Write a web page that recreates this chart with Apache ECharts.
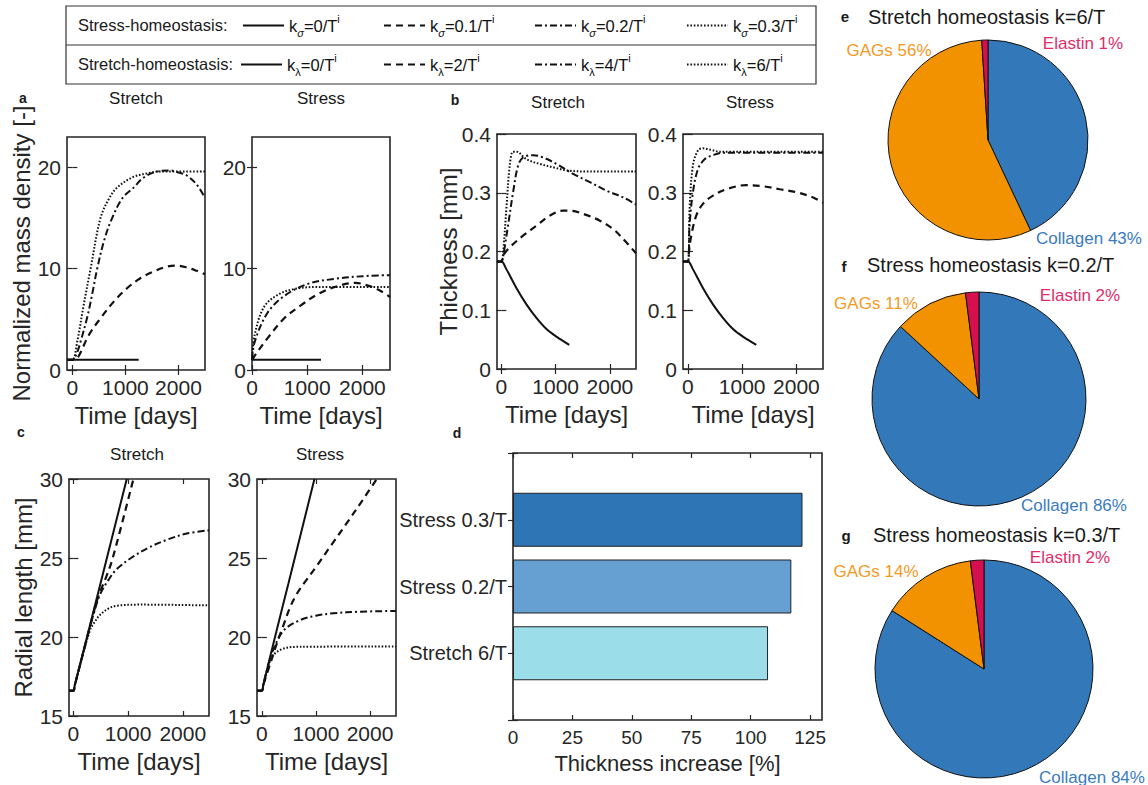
<!DOCTYPE html>
<html>
<head>
<meta charset="utf-8">
<script src="https://cdn.jsdelivr.net/npm/echarts@6/dist/echarts.min.js"></script>
<style>
  html, body { margin: 0; padding: 0; background: #ffffff; }
  #chart { width: 1148px; height: 785px; }
</style>
</head>
<body>
<div id="chart"></div>
<script>
// ---------------- data ----------------
const timeTicks = [0, 1000, 2000];
const densityTicks = [0, 10, 20];
const thicknessTicks = [0, 0.1, 0.2, 0.3, 0.4];
const radialTicks = [15, 20, 25, 30];
const increaseTicks = [0, 25, 50, 75, 100, 125];

// curve order in every panel: k = 0, then the three growth rates (low -> high)
const stretchRates = ['0', '2', '4', '6'];       // k_lambda
const stressRates = ['0', '0.1', '0.2', '0.3'];  // k_sigma

// a: normalized mass density [-] vs time [days]
const densityStretch = [
  [[-100, 1], [1250, 1]],
  [[-100, 1], [0, 1], [94, 1.15], [312, 3.46], [531, 5.1], [781, 6.75], [1031, 8.07], [1281, 9.06], [1531, 9.72], [1781, 10.21], [1969, 10.31], [2156, 10.12], [2344, 9.79], [2500, 9.46]],
  [[-100, 1], [0, 1], [80, 1.6], [156, 2.8], [281, 5.2], [375, 7.5], [469, 10], [600, 12.8], [750, 15], [950, 17], [1156, 18], [1344, 19], [1600, 19.6], [1844, 19.7], [2000, 19.5], [2156, 19.2], [2344, 18.3], [2500, 17.0]],
  [[-100, 1], [0, 1], [100, 3], [200, 6], [344, 10], [531, 15], [700, 17], [844, 18], [1125, 19], [1400, 19.4], [1656, 19.6], [2500, 19.6]]
];
const densityStress = [
  [[0, 1], [1250, 1]],
  [[0, 1], [100, 1.8], [276, 3.1], [583, 5.1], [890, 6.4], [1196, 7.5], [1500, 8.2], [1871, 8.6], [2117, 8.3], [2300, 7.9], [2500, 7.2]],
  [[0, 1], [50, 2.8], [276, 5.6], [583, 7.3], [1012, 8.5], [1503, 9.0], [2117, 9.3], [2500, 9.35]],
  [[0, 1], [50, 3.5], [215, 6.2], [460, 7.4], [767, 8.0], [1196, 8.2], [2500, 8.2]]
];

// b: thickness [mm] vs time [days]
const thicknessStretch = [
  [[-80, 0.183], [0, 0.183], [92, 0.170], [277, 0.138], [462, 0.110], [646, 0.087], [831, 0.068], [1015, 0.055], [1250, 0.041]],
  [[-80, 0.183], [0, 0.183], [31, 0.193], [154, 0.207], [400, 0.227], [646, 0.244], [892, 0.261], [1138, 0.2695], [1262, 0.2695], [1508, 0.264], [1815, 0.2525], [2062, 0.238], [2246, 0.221], [2480, 0.197]],
  [[-80, 0.183], [0, 0.183], [30, 0.19], [123, 0.244], [215, 0.30], [308, 0.346], [400, 0.360], [585, 0.364], [769, 0.360], [1015, 0.349], [1323, 0.332], [1631, 0.318], [1938, 0.3035], [2246, 0.292], [2480, 0.28]],
  [[-80, 0.183], [0, 0.183], [30, 0.195], [92, 0.272], [154, 0.346], [215, 0.37], [277, 0.37], [462, 0.357], [708, 0.349], [1015, 0.342], [1200, 0.338], [1631, 0.336], [2480, 0.336]]
];
const thicknessStress = [
  [[-90, 0.183], [0, 0.183], [92, 0.170], [277, 0.138], [462, 0.110], [646, 0.087], [831, 0.068], [1015, 0.055], [1260, 0.041]],
  [[-90, 0.183], [0, 0.183], [20, 0.2], [62, 0.227], [154, 0.261], [277, 0.281], [462, 0.295], [708, 0.306], [1077, 0.313], [1385, 0.311], [1692, 0.306], [2000, 0.301], [2308, 0.292], [2490, 0.283]],
  [[-90, 0.183], [0, 0.183], [31, 0.244], [92, 0.30], [185, 0.34], [308, 0.357], [462, 0.364], [646, 0.368], [2490, 0.368]],
  [[-90, 0.183], [0, 0.183], [31, 0.272], [92, 0.346], [185, 0.372], [277, 0.3756], [431, 0.373], [585, 0.370], [2490, 0.370]]
];

// c: radial length [mm] vs time [days]
const radialStretch = [
  [[-80, 16.6], [0, 16.6], [25, 16.94], [300, 20.7], [976, 30]],
  [[-80, 16.6], [0, 16.6], [25, 16.94], [300, 20.6], [450, 22.5], [600, 23.8], [720, 25.0], [1098, 30]],
  [[-80, 16.6], [0, 16.6], [25, 16.94], [300, 20.6], [400, 21.8], [488, 22.7], [640, 23.6], [793, 24.3], [1098, 25.1], [1402, 25.7], [1707, 26.15], [2073, 26.55], [2480, 26.75]],
  [[-80, 16.6], [0, 16.6], [25, 16.94], [300, 20.4], [400, 21.0], [488, 21.4], [640, 21.8], [793, 21.98], [1220, 22.05], [2480, 22.0]]
];
const radialStress = [
  [[-90, 16.6], [0, 16.6], [25, 16.95], [250, 20.1], [492, 23.4], [972, 30]],
  [[-90, 16.6], [0, 16.6], [25, 16.95], [154, 18.3], [277, 19.6], [400, 20.75], [523, 21.9], [650, 22.75], [800, 23.5], [1015, 24.5], [1300, 25.9], [1569, 27.2], [1850, 28.6], [2123, 30]],
  [[-90, 16.6], [0, 16.6], [25, 16.95], [100, 18.0], [200, 19.1], [400, 20.4], [708, 21.07], [1000, 21.35], [1323, 21.5], [1800, 21.6], [2480, 21.65]],
  [[-90, 16.6], [0, 16.6], [25, 16.95], [100, 17.9], [200, 18.8], [400, 19.27], [708, 19.38], [2480, 19.4]]
];

// d: thickness increase [%]
const barCategories = ['Stress 0.3/T', 'Stress 0.2/T', 'Stretch 6/T'];
const thicknessIncrease = [121.8, 117.1, 107.3];

// e-g: constituent fractions [%]
const constituents = ['Collagen', 'GAGs', 'Elastin'];
const fractionStretch6 = [43, 56, 1];
const fractionStress02 = [86, 11, 2];
const fractionStress03 = [84, 14, 2];

// ---------------- styles ----------------
const FONT = '"Liberation Sans", Arial, Helvetica, sans-serif';
const INK = '#262626';
const curveStyles = [
  { type: 'solid', width: 2 },
  { type: [7, 5], width: 2.2 },
  { type: [7, 3, 2, 3], width: 2 },
  { type: [1.6, 1.8], width: 2 }
];
const barColors = ['#2e75b6', '#66a0d2', '#9bdde9'];
const pieColors = ['#3378b9', '#f39200', '#d6104f'];
const pieTextColors = ['#3a7bc0', '#f59a1e', '#e02d6a'];
const plainNumber = (v) => String(v);

const panels = [
  { box: { left: 67, top: 137, width: 138, height: 233 }, x: [-100, 2500], y: [0, 23], yTicks: densityTicks, curves: densityStretch, group: 'lambda', yName: 'Normalized mass density [-]', yGap: 34 },
  { box: { left: 252, top: 137, width: 138, height: 233 }, x: [0, 2500], y: [0, 23], yTicks: densityTicks, curves: densityStress, group: 'sigma' },
  { box: { left: 497, top: 134, width: 139, height: 235 }, x: [-80, 2480], y: [0, 0.4], yTicks: thicknessTicks, curves: thicknessStretch, group: 'lambda', yName: 'Thickness [mm]', yGap: 37 },
  { box: { left: 683, top: 134, width: 140, height: 235 }, x: [-90, 2490], y: [0, 0.4], yTicks: thicknessTicks, curves: thicknessStress, group: 'sigma' },
  { box: { left: 69, top: 479, width: 140, height: 237 }, x: [-80, 2480], y: [15, 30], yTicks: radialTicks, curves: radialStretch, group: 'lambda', yName: 'Radial length [mm]', yGap: 34 },
  { box: { left: 257, top: 479, width: 139, height: 237 }, x: [-90, 2480], y: [15, 30], yTicks: radialTicks, curves: radialStress, group: 'sigma' }
];

const grids = [], xAxes = [], yAxes = [], series = [];

function ticks(values) {
  const t = { show: true, inside: true, length: 5, lineStyle: { color: INK, width: 1.2 } };
  if (values) t.customValues = values;
  return t;
}
function gridBox(box) {
  return Object.assign({ show: true, borderColor: INK, borderWidth: 1.6, backgroundColor: 'transparent', containLabel: false, outerBoundsMode: 'none' }, box);
}

panels.forEach((p, gi) => {
  grids.push(gridBox(p.box));
  const xi = xAxes.length, yi = yAxes.length;
  xAxes.push({
    type: 'value', gridIndex: gi, position: 'bottom', min: p.x[0], max: p.x[1],
    axisLine: { show: false }, splitLine: { show: false }, axisTick: ticks(timeTicks),
    axisLabel: { customValues: timeTicks, formatter: plainNumber, fontSize: 21, color: INK, margin: 7, fontFamily: FONT },
    name: 'Time [days]', nameLocation: 'middle', nameGap: 33, nameMoveOverlap: false,
    nameTextStyle: { fontSize: 24, color: INK, fontFamily: FONT }
  });
  xAxes.push({
    type: 'value', gridIndex: gi, position: 'top', min: p.x[0], max: p.x[1],
    axisLine: { show: false }, splitLine: { show: false }, axisTick: ticks(timeTicks), axisLabel: { show: false }
  });
  const left = {
    type: 'value', gridIndex: gi, position: 'left', min: p.y[0], max: p.y[1],
    axisLine: { show: false }, splitLine: { show: false }, axisTick: ticks(p.yTicks),
    axisLabel: { customValues: p.yTicks, formatter: plainNumber, fontSize: 21, color: INK, margin: 6, fontFamily: FONT }
  };
  if (p.yName) {
    Object.assign(left, {
      name: p.yName, nameLocation: 'middle', nameGap: p.yGap, nameMoveOverlap: false,
      nameTextStyle: { fontSize: 24, color: INK, fontFamily: FONT }
    });
  }
  yAxes.push(left);
  yAxes.push({
    type: 'value', gridIndex: gi, position: 'right', min: p.y[0], max: p.y[1],
    axisLine: { show: false }, splitLine: { show: false }, axisTick: ticks(p.yTicks), axisLabel: { show: false }
  });
  p.curves.forEach((data, ci) => {
    series.push({
      type: 'line', name: p.group + ci, xAxisIndex: xi, yAxisIndex: yi, data: data,
      symbol: 'none', smooth: 0.35, clip: true, silent: true,
      itemStyle: { color: 'rgba(0,0,0,0)' },
      lineStyle: Object.assign({ color: '#111111' }, curveStyles[ci]),
      emphasis: { disabled: true }
    });
  });
});

// d: horizontal bars
(function () {
  const gi = grids.length;
  grids.push(gridBox({ left: 513, top: 453, width: 309, height: 267 }));
  const slots = [''].concat(barCategories, ['']);
  const xi = xAxes.length, yi = yAxes.length;
  xAxes.push({
    type: 'value', gridIndex: gi, position: 'bottom', min: 0, max: 130,
    axisLine: { show: false }, splitLine: { show: false }, axisTick: ticks(increaseTicks),
    axisLabel: { customValues: increaseTicks, formatter: plainNumber, fontSize: 19, color: INK, margin: 8, fontFamily: FONT },
    name: 'Thickness increase [%]', nameLocation: 'middle', nameGap: 32, nameMoveOverlap: false,
    nameTextStyle: { fontSize: 22, color: INK, fontFamily: FONT }
  });
  xAxes.push({
    type: 'value', gridIndex: gi, position: 'top', min: 0, max: 130,
    axisLine: { show: false }, splitLine: { show: false }, axisTick: ticks(increaseTicks), axisLabel: { show: false }
  });
  yAxes.push({
    type: 'category', gridIndex: gi, position: 'left', data: slots, inverse: true, boundaryGap: false,
    axisLine: { show: false }, splitLine: { show: false }, axisTick: ticks(null),
    axisLabel: { fontSize: 20, color: INK, margin: 6, fontFamily: FONT, interval: 0 }
  });
  yAxes.push({
    type: 'category', gridIndex: gi, position: 'right', data: slots, inverse: true, boundaryGap: false,
    axisLine: { show: false }, splitLine: { show: false }, axisTick: ticks(null), axisLabel: { show: false }
  });
  series.push({
    type: 'bar', name: 'increase', xAxisIndex: xi, yAxisIndex: yi, barWidth: 54, silent: true,
    itemStyle: { borderColor: '#222222', borderWidth: 1 },
    data: [null].concat(thicknessIncrease.map((v, i) => ({ value: v, itemStyle: { color: barColors[i] } })), [null])
  });
})();

// e-g: pies
const pieLayouts = [
  { center: [988, 140], radius: 100, values: fractionStretch6, labelAt: [[1089, 238], [889, 50], [1083, 43]] },
  { center: [979, 399], radius: 107, values: fractionStress02, labelAt: [[1074, 505], [876, 303], [1080, 295]] },
  { center: [984, 669], radius: 109, values: fractionStress03, labelAt: [[1092, 777], [876, 571], [1070, 557]] }
];
pieLayouts.forEach((pl) => {
  series.push({
    type: 'pie', center: pl.center, radius: pl.radius, startAngle: 90, clockwise: true,
    avoidLabelOverlap: false, silent: true, emphasis: { disabled: true },
    itemStyle: { borderColor: '#111111', borderWidth: 1 },
    label: { show: true, position: 'outside', formatter: '{b} {c}%', fontSize: 17, fontFamily: FONT },
    labelLine: { show: false },
    labelLayout: (params) => ({ x: pl.labelAt[params.dataIndex][0], y: pl.labelAt[params.dataIndex][1], align: 'center', verticalAlign: 'middle' }),
    data: constituents.map((n, i) => ({ name: n, value: pl.values[i], itemStyle: { color: pieColors[i] }, label: { color: pieTextColors[i] } }))
  });
});

// legend rows with line samples
const legendRows = [
  { group: 'sigma', sub: 'σ', subStyle: 'italic', rates: stressRates, y: 25, xs: [242, 383, 534, 686] },
  { group: 'lambda', sub: 'λ', subStyle: 'normal', rates: stretchRates, y: 64, xs: [240, 383, 534, 686] }
];
const legends = [];
legendRows.forEach((row) => {
  row.rates.forEach((r, i) => {
    legends.push({
      data: [row.group + i], left: row.xs[i], top: row.y - 12, orient: 'horizontal',
      itemWidth: 41, itemHeight: 14, itemGap: 0, padding: 0, selectedMode: false,
      itemStyle: { opacity: 0 },
      formatter: () => '{k|k}{s|' + row.sub + '}{t|=' + r + '/T}{i|i}',
      textStyle: {
        color: '#111111', fontFamily: FONT,
        rich: {
          k: { fontSize: 16.5, fontFamily: FONT, color: '#111111' },
          s: { fontSize: 11, fontFamily: FONT, fontStyle: row.subStyle, color: '#111111', padding: [14, 0, 0, 0] },
          t: { fontSize: 16.5, fontFamily: FONT, color: '#111111' },
          i: { fontSize: 11, fontFamily: FONT, color: '#111111', padding: [0, 0, 14, 0] }
        }
      }
    });
  });
});

// static text and frame
function txt(text, x, y, size, extra) {
  return {
    type: 'text', x: x, y: y, silent: true,
    style: Object.assign({ text: text, fontSize: size, fontFamily: FONT, fill: '#1a1a1a', align: 'center', verticalAlign: 'middle' }, extra || {})
  };
}
const graphics = [
  { type: 'rect', silent: true, shape: { x: 66, y: 6, width: 750, height: 78 }, style: { fill: 'none', stroke: '#333333', lineWidth: 1.2 } },
  { type: 'line', silent: true, shape: { x1: 66, y1: 45, x2: 816, y2: 45 }, style: { stroke: '#333333', lineWidth: 1.2 } },
  txt('Stress-homeostasis:', 78, 25, 16.5, { align: 'left' }),
  txt('Stretch-homeostasis:', 78, 64, 16.5, { align: 'left' }),
  txt('Stretch', 136, 98, 17), txt('Stress', 321, 98, 17),
  txt('Stretch', 558, 102, 17), txt('Stress', 750, 102, 17),
  txt('Stretch', 137, 454, 17), txt('Stress', 320, 454, 17),
  txt('a', 23, 98, 14, { fontWeight: 'bold' }),
  txt('b', 455, 100, 14, { fontWeight: 'bold' }),
  txt('c', 21, 432, 14, { fontWeight: 'bold' }),
  txt('d', 457, 433, 14, { fontWeight: 'bold' }),
  txt('e', 845, 16, 15, { fontWeight: 'bold' }),
  txt('f', 844, 266, 15, { fontWeight: 'bold' }),
  txt('g', 846, 535, 15, { fontWeight: 'bold' }),
  txt('Stretch homeostasis k=6/T', 868, 17, 20, { align: 'left' }),
  txt('Stress homeostasis k=0.2/T', 867, 265, 20, { align: 'left' }),
  txt('Stress homeostasis k=0.3/T', 873, 535, 20, { align: 'left' })
];

const chart = echarts.init(document.getElementById('chart'), null, { renderer: 'svg', width: 1148, height: 785 });
chart.setOption({
  animation: false,
  backgroundColor: '#ffffff',
  textStyle: { fontFamily: FONT },
  grid: grids,
  xAxis: xAxes,
  yAxis: yAxes,
  legend: legends,
  series: series,
  graphic: graphics
});
</script>
</body>
</html>
